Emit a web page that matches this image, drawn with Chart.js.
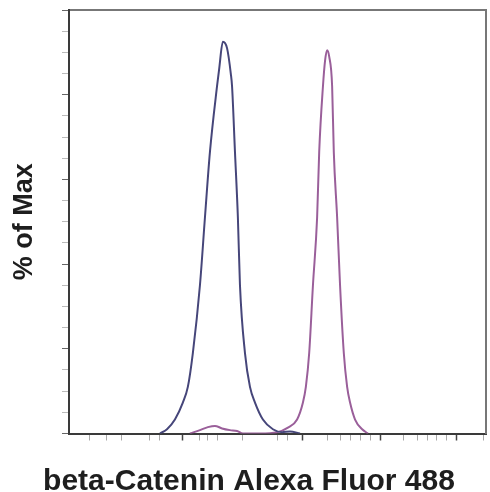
<!DOCTYPE html>
<html lang="en">
<head>
    <meta charset="UTF-8">
    <title>beta-Catenin Alexa Fluor 488</title>
    <script src="https://cdn.jsdelivr.net/npm/chart.js"></script>
    <style>
        body { margin: 0; background: white; }
        #wrap { width: 490px; height: 492px; }
    </style>
</head>
<body>
<div id="wrap"><canvas id="histChart"></canvas></div>

<script>
    // fluorescence channel (0-1000) vs % of max
    const controlX = [218, 235, 254, 273, 285, 297, 314, 326, 338, 355, 360, 369, 379, 388, 391, 398, 405, 410, 422, 434, 446, 465, 489, 511, 530, 554];
    const controlY = [0, 1, 3.3, 7.3, 11, 19, 35, 51, 66.5, 82, 86, 92.5, 91, 85, 82, 66.5, 51, 35, 19, 11, 7.3, 3.3, 1, 0.3, 0.5, 0];

    const stainedX = [290, 314, 333, 350, 367, 386, 403, 417, 458, 499, 525, 547, 561, 568, 576, 585, 595, 600, 609, 614, 619, 624, 631, 635, 643, 650, 659, 667, 674, 686, 703, 717];
    const stainedY = [0, 0.8, 1.5, 1.8, 1.2, 0.8, 0.6, 0, 0, 0.3, 1.4, 3.3, 7.3, 11, 19, 35, 51, 66.5, 82, 88, 90.5, 89, 82, 66.5, 51, 35, 19, 11, 7.3, 3.3, 1, 0];

    // tick marks of the x axis (no labels)
    const xMajorTicks = [271, 561, 746, 930];
    const xMinorTicks = [50, 91, 127, 194, 218, 314, 331, 355, 415, 499, 523, 619, 650, 674, 698, 722, 801, 835, 859, 882, 906, 993];

    const toPoints = (xs, ys) => xs.map((x, i) => ({ x: x, y: ys[i] }));
    const fontFamily = "'Liberation Sans', Arial, sans-serif";

    new Chart(document.getElementById("histChart"), {
        type: 'line',
        data: {
            datasets: [{
                label: "Control",
                data: toPoints(controlX, controlY),
                borderColor: "#46467a",
                borderWidth: 2,
                pointRadius: 0,
                cubicInterpolationMode: 'monotone'
            }, {
                label: "beta-Catenin",
                data: toPoints(stainedX, stainedY),
                borderColor: "#9a5f9a",
                borderWidth: 2,
                pointRadius: 0,
                cubicInterpolationMode: 'monotone'
            }]
        },
        options: {
            responsive: true,
            maintainAspectRatio: false,
            animation: false,
            layout: { padding: { left: 12, right: 4, top: 10, bottom: 0 } },
            plugins: {
                legend: { display: false },
                tooltip: { enabled: false },
                title: {
                    display: true,
                    position: 'bottom',
                    text: "beta-Catenin Alexa Fluor 488",
                    color: "#1e1e1e",
                    font: { family: fontFamily, size: 30, weight: 'bold', lineHeight: 0.7 },
                    padding: { top: 30.5, bottom: 0 }
                }
            },
            scales: {
                x: {
                    type: 'linear',
                    min: 0,
                    max: 1000,
                    afterBuildTicks: (scale) => {
                        scale.ticks = xMajorTicks.concat(xMinorTicks).sort((a, b) => a - b).map(v => ({ value: v }));
                    },
                    ticks: { display: false },
                    grid: {
                        drawOnChartArea: false,
                        tickLength: 7,
                        tickColor: (ctx) => xMajorTicks.includes(ctx.tick.value) ? "#444" : "#aaa",
                        tickWidth: (ctx) => xMajorTicks.includes(ctx.tick.value) ? 1.5 : 1
                    },
                    border: { color: "#3a3a3a", width: 2 }
                },
                x2: {
                    type: 'linear',
                    position: 'top',
                    min: 0,
                    max: 1000,
                    ticks: { display: false },
                    grid: { drawOnChartArea: false, drawTicks: false },
                    border: { color: "#777", width: 2 }
                },
                y: {
                    min: 0,
                    max: 100,
                    ticks: { display: false, stepSize: 5 },
                    grid: {
                        drawOnChartArea: false,
                        tickLength: 7,
                        tickColor: (ctx) => ctx.tick.value % 20 === 0 ? "#666" : "#bbb",
                        tickWidth: 1
                    },
                    border: { color: "#3a3a3a", width: 2 },
                    title: {
                        display: true,
                        text: "% of Max",
                        color: "#1e1e1e",
                        font: { family: fontFamily, size: 27, weight: 'bold', lineHeight: 0.9 },
                        padding: { top: 0, bottom: 25.7 }
                    }
                },
                y2: {
                    position: 'right',
                    min: 0,
                    max: 100,
                    ticks: { display: false },
                    grid: { drawOnChartArea: false, drawTicks: false },
                    border: { color: "#777", width: 2 }
                }
            }
        }
    });
</script>
</body>
</html>
